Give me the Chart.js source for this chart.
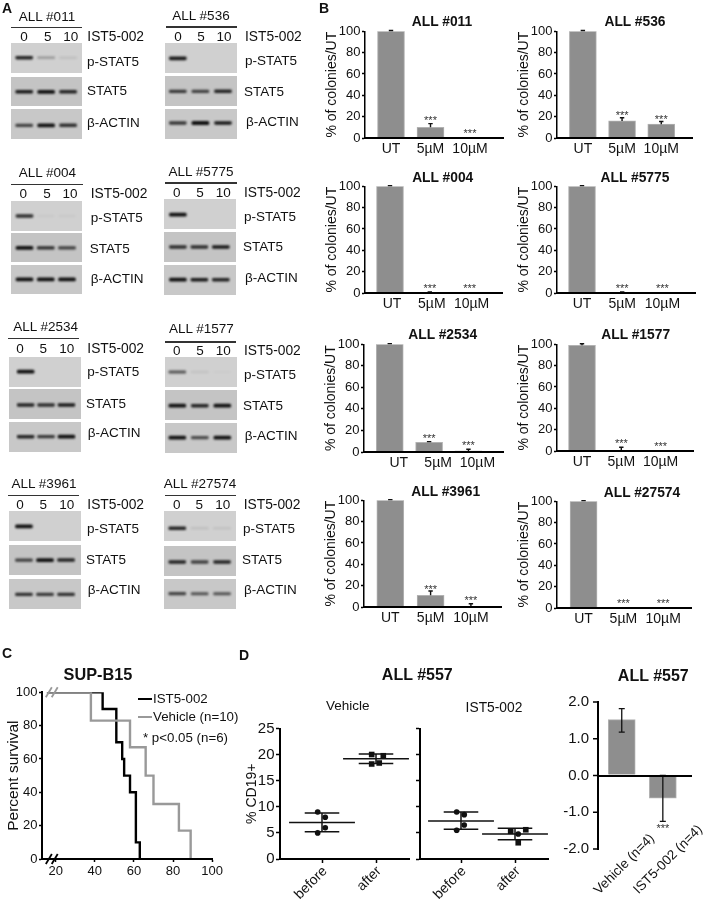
<!DOCTYPE html>
<html>
<head>
<meta charset="utf-8">
<style>
html, body { margin: 0; padding: 0; background: #fff; }
#page { position: absolute; left: 0; top: 0; width: 703px; height: 900px; overflow: hidden; filter: blur(0.35px); font-family: "Liberation Sans", Arial, sans-serif; color: #111; }
#page canvas { position: absolute; }
#page span { position: absolute; white-space: nowrap; line-height: 1; }
#page i { position: absolute; display: block; }
</style>
<script src="https://cdn.jsdelivr.net/npm/chart.js@4"></script>
</head>
<body>
<div id="page"></div>
<script>
// blot band strength per lane, rows are p-STAT5, STAT5, beta-ACTIN
const blotRows = ['p-STAT5', 'STAT5', 'β-ACTIN'];
const doses = ['0', '5', '10'];
const blot011 = [[.85, .3, .1], [.9, .95, .85], [.7, .95, .8]];
const blot536 = [[.9, 0, 0], [.75, .7, .85], [.75, 1, .9]];
const blot004 = [[.8, .03, .03], [.95, .8, .7], [.95, 1, 1]];
const blot5775 = [[.95, 0, 0], [.8, .8, .9], [1, .9, .85]];
const blot2534 = [[.95, 0, 0], [.85, .8, .9], [.85, .75, 1]];
const blot1577 = [[.6, .08, .02], [.95, .85, 1], [.95, .65, .95]];
const blot3961 = [[1, 0, 0], [.7, 1, .85], [.8, .75, .8]];
const blot27574 = [[.85, .1, .08], [.85, .7, .85], [.7, .6, .6]];

// colony assays
const treatments = ['UT', '5µM', '10µM'];
const colonies011 = [100, 10, 0];
const colonies536 = [100, 16, 13];
const colonies004 = [100, 0, 0];
const colonies5775 = [100, 0, 0];
const colonies2534 = [100, 9, 1];
const colonies1577 = [99, 0, 0];
const colonies3961 = [100, 11, 0];
const colonies27574 = [100, 0, 0];
const err011 = [0.8, 3.5, 0];
const err536 = [0.8, 3, 2.5];
const err004 = [0.6, 1, 0];
const err5775 = [0.6, 1, 0];
const err2534 = [0.6, 0.6, 1.5];
const err1577 = [1.5, 3.5, 0];
const err3961 = [0.6, 4, 3];
const err27574 = [0.6, 0, 0];
const stars011 = [null, 19, 7];
const stars536 = [null, 23.5, 20];
const stars004 = [null, 7, 6.5];
const stars5775 = [null, 7, 6.5];
const stars2534 = [null, 14.7, 8.3];
const stars1577 = [null, 9.4, 6.4];
const stars3961 = [null, 19, 8];
const stars27574 = [null, 6.5, 6.5];

// survival (SUP-B15)
const istDays = [15.5, 44, 51, 54, 55, 58, 61, 63];
const istSurvival = [100, 90, 70, 60, 50, 40, 10, 0];
const vehDays = [15.5, 38, 58, 66, 70, 83, 89];
const vehSurvival = [100, 83, 67, 50, 33, 17, 0];
const survivalTicks = [20, 40, 60, 80, 100];

// % CD19+ (ALL #557)
const phases = ['before', 'after'];
const vehBeforeX = [-0.08, 0.06, 0.06, -0.08];
const vehBefore = [9, 8, 6, 5];
const vehAfterX = [0.92, 1.135, 0.92, 1.06];
const vehAfter = [20, 19.8, 18.2, 18.4];
const istBeforeX = [-0.08, 0.06, 0.06, -0.08];
const istBefore = [9, 8.5, 6.5, 5.5];
const istAfterX = [0.92, 1.2, 1.06, 1.06];
const istAfter = [5.3, 5.6, 4.8, 3.1];
const vehMean = [7, 19.2];
const vehSdHigh = [8.8, 20.1];
const vehSdLow = [5.2, 18.3];
const istMean = [7.3, 4.8];
const istSdHigh = [9, 5.9];
const istSdLow = [5.7, 3.7];

// fold change (ALL #557)
const foldGroups = ['Vehicle (n=4)', 'IST5-002 (n=4)'];
const foldValues = [1.52, -0.62];
const foldErrHigh = [1.82, 0];
const foldErrLow = [1.18, -1.25];
const foldStars = [null, -1.38];

const FONT = '"Liberation Sans", Arial, sans-serif';
const page = document.getElementById('page');
Chart.defaults.font.family = FONT;
Chart.defaults.color = '#111';
Chart.defaults.animation = false;
Chart.defaults.plugins.legend.display = false;
Chart.defaults.plugins.tooltip.enabled = false;

function text(str, x, y, size, opts) {
    opts = opts || {};
    const s = document.createElement('span');
    s.textContent = str;
    s.style.left = x + 'px';
    s.style.top = y + 'px';
    s.style.fontSize = size + 'px';
    if (opts.bold) s.style.fontWeight = 'bold';
    s.style.transform = opts.left ? 'translate(0,-50%)' : 'translate(-50%,-50%)';
    if (opts.slant) {
        s.style.transformOrigin = '100% 50%';
        s.style.transform = 'translate(-100%,-50%) rotate(-45deg)';
    }
    page.appendChild(s);
}

// canvas placed so the chart area lands on the given box
function place(x0, x1, yTop, yBottom, L, B, R, T, config) {
    const c = document.createElement('canvas');
    c.width = L + (x1 - x0) + R;
    c.height = T + (yBottom - yTop) + B;
    c.style.left = (x0 - L) + 'px';
    c.style.top = (yTop - T) + 'px';
    page.appendChild(c);
    config.options.responsive = false;
    config.options.layout = { autoPadding: false, padding: { left: 0, right: R, top: T, bottom: 0 } };
    config.options.scales.x.afterFit = s => { s.height = B; };
    config.options.scales.y.afterFit = s => { s.width = L; };
    return new Chart(c, config);
}

// error bars and significance marks, per dataset: errHigh, errLow, starLevels
const errorBars = {
    id: 'errorBars',
    afterDatasetsDraw(chart) {
        const ctx = chart.ctx;
        chart.data.datasets.forEach((ds, di) => {
            if (!ds.errHigh) return;
            const meta = chart.getDatasetMeta(di);
            const ys = chart.scales.y;
            ctx.save();
            ctx.strokeStyle = '#111';
            ctx.lineWidth = ds.errWidth || 1.4;
            meta.data.forEach((bar, i) => {
                const hi = ds.errHigh[i], lo = ds.errLow[i];
                if (hi !== lo) {
                    const cap = ds.capHalf || 2.2;
                    const yh = ys.getPixelForValue(hi), yl = ys.getPixelForValue(lo);
                    ctx.beginPath();
                    ctx.moveTo(bar.x, yh);
                    ctx.lineTo(bar.x, yl);
                    ctx.moveTo(bar.x - cap, yh);
                    ctx.lineTo(bar.x + cap, yh);
                    if (ds.capLow) {
                        ctx.moveTo(bar.x - cap, yl);
                        ctx.lineTo(bar.x + cap, yl);
                    }
                    ctx.stroke();
                }
                if (ds.starLevels && ds.starLevels[i] !== null) {
                    ctx.fillStyle = '#333';
                    ctx.font = '11px ' + FONT;
                    ctx.textAlign = 'center';
                    ctx.textBaseline = 'alphabetic';
                    ctx.fillText('***', bar.x, ys.getPixelForValue(ds.starLevels[i]) + 6);
                }
            });
            ctx.restore();
        });
    }
};

// gel background and soft bands
const gelLook = {
    id: 'gelLook',
    beforeDraw(chart, args, o) {
        chart.ctx.save();
        chart.ctx.fillStyle = o.bg;
        chart.ctx.fillRect(0, 0, chart.width, chart.height);
        chart.ctx.restore();
    },
    beforeDatasetsDraw(chart) {
        chart.ctx.save();
        chart.ctx.filter = 'blur(0.8px)';
    },
    afterDatasetsDraw(chart) {
        chart.ctx.restore();
    }
};

// the // marks on the broken time axis
const axisBreak = {
    id: 'axisBreak',
    afterDraw(chart) {
        const ctx = chart.ctx, xs = chart.scales.x, ys = chart.scales.y;
        [[100, '#999'], [0, '#000']].forEach(([v, color]) => {
            const y = ys.getPixelForValue(v);
            [16.5, 19.5].forEach(d => {
                const x = xs.getPixelForValue(d);
                ctx.save();
                ctx.strokeStyle = color;
                ctx.lineWidth = 1.8;
                ctx.beginPath();
                ctx.moveTo(x - 3, y + 5);
                ctx.lineTo(x + 3, y - 5);
                ctx.stroke();
                ctx.restore();
            });
        });
    }
};

function blotGroup(g) {
    text(g.name, g.titleX, g.titleY, 13.5);
    const rule = document.createElement('i');
    rule.style.cssText = 'left:' + g.ruleX[0] + 'px;top:' + (g.ruleY - 1) + 'px;width:' + (g.ruleX[1] - g.ruleX[0]) + 'px;height:1.6px;background:#333';
    page.appendChild(rule);
    doses.forEach((d, i) => text(d, g.doseX[i], g.doseY, 13.5));
    text('IST5-002', g.istX, g.doseY, 13.8, { left: true });
    blotRows.forEach((rowName, r) => {
        text(rowName, g.labelX[r], g.labelY[r], 13.5, { left: true });
        const top = g.rowTop[r], bottom = g.rowBottom[r], step = (g.bandX[2] - g.bandX[0]) / 2;
        const aLeft = g.bandX[0] - step / 2, aRight = g.bandX[2] + step / 2;
        const h = bottom - top, band = g.bandY[r] - top;
        const strengths = g.data[r];
        const c = document.createElement('canvas');
        c.width = g.panelX[1] - g.panelX[0];
        c.height = h;
        c.style.left = g.panelX[0] + 'px';
        c.style.top = top + 'px';
        page.appendChild(c);
        new Chart(c, {
            type: 'bar',
            data: {
                labels: doses,
                datasets: [{
                    data: strengths.map(v => [-(0.6 + 1 * v), 0.6 + 1 * v]),
                    backgroundColor: strengths.map(v => 'rgba(15,15,15,' + Math.min(1, v * 1.05) + ')'),
                    barThickness: 17,
                    borderRadius: 1.5,
                    borderSkipped: false
                }]
            },
            options: {
                responsive: false,
                layout: { autoPadding: false, padding: { left: aLeft - g.panelX[0], right: g.panelX[1] - aRight, top: 0, bottom: 0 } },
                plugins: { gelLook: { bg: r === 0 ? '#d0d0d0' : (r === 1 ? '#c4c4c4' : '#c8c8c8') } },
                scales: {
                    x: { display: false },
                    y: { display: false, min: -(h - band), max: band }
                }
            },
            plugins: [gelLook]
        });
    });
}

function colonyPanel(p) {
    text(p.name, p.titleX, p.titleY, 13.8, { bold: true });
    const x = (p.axisX - p.c0) / p.step, x2 = (p.end - p.c0) / p.step;
    place(p.axisX, p.end, p.y100, p.y0, 46, 24, 4, 8, {
        type: 'bar',
        data: {
            datasets: [{
                data: p.values.map((v, i) => ({ x: i, y: v })),
                backgroundColor: '#8e8e8e',
                borderColor: '#b2b2b2',
                borderWidth: 1,
                barThickness: 27,
                errHigh: p.values.map((v, i) => v + p.errors[i]),
                errLow: p.values,
                starLevels: p.stars
            }]
        },
        options: {
            scales: {
                x: {
                    type: 'linear', min: x, max: x2, offset: false,
                    afterBuildTicks: s => { s.ticks = treatments.map((t, i) => ({ value: i })); },
                    grid: { display: false, drawTicks: false },
                    border: { color: '#000', width: 2, z: 1 },
                    ticks: { autoSkip: false, maxRotation: 0, padding: 3, labelOffset: p.labelShift || 0, font: { size: 14 }, callback: v => treatments[v] }
                },
                y: {
                    min: 0, max: 100,
                    grid: { drawOnChartArea: false, color: '#000', tickLength: 3, tickWidth: 1.5 },
                    border: { color: '#000', width: 1.5, z: 1 },
                    ticks: { stepSize: 20, padding: 1.5, font: { size: 13 } },
                    title: { display: true, text: '% of colonies/UT', font: { size: 14 }, padding: 4.5 }
                }
            }
        },
        plugins: [errorBars]
    });
}

function cd19Panel(d) {
    const step = 54;
    const hLine = (c, v, half, w) => ({
        type: 'line',
        data: [{ x: c - half, y: v }, { x: c + half, y: v }],
        borderColor: '#111', borderWidth: w, pointRadius: 0
    });
    const sets = [];
    [0, 1].forEach(c => {
        sets.push(hLine(c, d.mean[c], 0.61, 1.5));
        sets.push(hLine(c, d.high[c], 0.32, 1.5));
        sets.push(hLine(c, d.low[c], 0.32, 1.5));
        sets.push({ type: 'line', data: [{ x: c, y: d.high[c] }, { x: c, y: d.low[c] }], borderColor: '#111', borderWidth: 1.5, pointRadius: 0 });
    });
    sets.push({
        type: 'scatter',
        data: d.beforeX.map((x, i) => ({ x: x, y: d.before[i] })),
        backgroundColor: '#111', pointRadius: 2.8, pointStyle: 'circle'
    });
    sets.push({
        type: 'scatter',
        data: d.afterX.map((x, i) => ({ x: x, y: d.after[i] })),
        backgroundColor: '#111',
        pointRadius: d.afterX.map((x, i) => d.afterRound === i ? 2.8 : 3.9),
        pointStyle: d.afterX.map((x, i) => d.afterRound === i ? 'circle' : 'rect')
    });
    place(d.axisX, d.end, 726, 859, d.L, 40, 4, 8, {
        type: 'scatter',
        data: { datasets: sets },
        options: {
            scales: {
                x: {
                    type: 'linear', min: (d.axisX - d.tick0) / step, max: (d.end - d.tick0) / step,
                    afterBuildTicks: s => { s.ticks = phases.map((t, i) => ({ value: i })); },
                    grid: { drawOnChartArea: false, color: '#000', tickLength: 4, tickWidth: 1.5 },
                    border: { color: '#000', width: 2 },
                    ticks: { autoSkip: false, minRotation: 45, maxRotation: 45, padding: 0, labelOffset: 3, font: { size: 14 }, callback: v => phases[v] }
                },
                y: {
                    min: 0, max: 25,
                    grid: { drawOnChartArea: false, color: '#000', tickLength: 4, tickWidth: 1.5 },
                    border: { color: '#000', width: 2 },
                    ticks: { stepSize: 5, padding: 1.5, font: { size: 15 }, callback: v => d.showLabels ? v : '' },
                    title: { display: d.showLabels, text: '% CD19+', font: { size: 14 }, padding: 1.6 }
                }
            }
        }
    });
}

// panel A
text('A', 7, 8, 14, { bold: true });
[
    { name: 'ALL #011', data: blot011, titleX: 47, titleY: 17, ruleX: [11, 82], ruleY: 27.7, doseX: [24, 47.7, 70.7], doseY: 36.7, istX: 87.3,
      panelX: [10.7, 82.3], rowTop: [43.3, 77.3, 109.3], rowBottom: [74, 106.7, 140], bandX: [24, 46, 68.3], bandY: [58.3, 92.3, 126], labelX: [87, 87, 87], labelY: [62, 90.7, 122.7] },
    { name: 'ALL #536', data: blot536, titleX: 201, titleY: 16, ruleX: [166, 237.3], ruleY: 27.3, doseX: [178, 201, 224], doseY: 37, istX: 245,
      panelX: [164.7, 236.7], rowTop: [43.3, 76, 108.7], rowBottom: [74, 106.7, 139.3], bandX: [177.5, 201.7, 222.7], bandY: [59, 91.7, 123], labelX: [245, 244, 246], labelY: [61, 91.7, 122] },
    { name: 'ALL #004', data: blot004, titleX: 47.3, titleY: 172.7, ruleX: [11.3, 82.7], ruleY: 184.7, doseX: [23.3, 47, 70], doseY: 194.3, istX: 90.7,
      panelX: [11, 82], rowTop: [200.7, 232.7, 264.7], rowBottom: [230.7, 262, 294], bandX: [24.5, 44.7, 67], bandY: [215.7, 247.7, 279.3], labelX: [90.7, 89.7, 90.7], labelY: [217.7, 249, 278.7] },
    { name: 'ALL #5775', data: blot5775, titleX: 201, titleY: 172, ruleX: [165, 236.7], ruleY: 183, doseX: [176.7, 200, 223.3], doseY: 192.7, istX: 244,
      panelX: [164.3, 237], rowTop: [198.7, 232, 264.7], rowBottom: [229.3, 262.7, 295.3], bandX: [178.3, 200.7, 221.7], bandY: [214.7, 247.3, 279.7], labelX: [244, 243, 245], labelY: [216.7, 247, 277.7] },
    { name: 'ALL #2534', data: blot2534, titleX: 45.7, titleY: 327.3, ruleX: [8, 79.3], ruleY: 338.7, doseX: [20, 43.3, 66.7], doseY: 348.7, istX: 87.3,
      panelX: [9, 81.3], rowTop: [356.7, 389.3, 422], rowBottom: [387.3, 420, 452.7], bandX: [25.7, 45.7, 66.7], bandY: [371.7, 405.7, 437], labelX: [87.3, 86, 87.7], labelY: [372, 403.7, 433] },
    { name: 'ALL #1577', data: blot1577, titleX: 201.3, titleY: 329.3, ruleX: [165, 236.3], ruleY: 342, doseX: [176.7, 200, 223.3], doseY: 350.7, istX: 244,
      panelX: [164.7, 236.7], rowTop: [357.3, 390, 423.3], rowBottom: [387.3, 420.7, 453.3], bandX: [177, 200, 222], bandY: [372.3, 406, 438], labelX: [244, 243, 244.7], labelY: [374.7, 405.7, 436] },
    { name: 'ALL #3961', data: blot3961, titleX: 44, titleY: 483.7, ruleX: [8, 79.3], ruleY: 495.7, doseX: [20, 43.3, 66.7], doseY: 505.3, istX: 87.3,
      panelX: [8.7, 81], rowTop: [511.3, 545.3, 579.3], rowBottom: [542, 576, 610], bandX: [23.7, 44.7, 66], bandY: [527, 560.7, 595], labelX: [87, 86, 87.7], labelY: [529, 560, 590.3] },
    { name: 'ALL #27574', data: blot27574, titleX: 200, titleY: 483.7, ruleX: [164.7, 236], ruleY: 495.7, doseX: [176.7, 199.3, 222.7], doseY: 505.3, istX: 243.7,
      panelX: [163.7, 236], rowTop: [511, 546, 578.7], rowBottom: [541.7, 576, 609.3], bandX: [177, 200, 222], bandY: [528.7, 562, 593.7], labelX: [243, 242, 244], labelY: [529, 559.7, 590] }
].forEach(blotGroup);

// panel B
text('B', 324, 8, 14, { bold: true });
[
    { name: 'ALL #011', values: colonies011, errors: err011, stars: stars011, titleX: 442, titleY: 22, axisX: 365, end: 503, y100: 30, y0: 138.5, c0: 391, step: 39.5 },
    { name: 'ALL #536', values: colonies536, errors: err536, stars: stars536, titleX: 635, titleY: 22, axisX: 557, end: 692.7, y100: 30, y0: 138.5, c0: 583, step: 39.4 },
    { name: 'ALL #004', values: colonies004, errors: err004, stars: stars004, titleX: 442.7, titleY: 177.7, axisX: 365, end: 502, y100: 185, y0: 293.7, c0: 390, step: 39.8, labelShift: 2 },
    { name: 'ALL #5775', values: colonies5775, errors: err5775, stars: stars5775, titleX: 635, titleY: 178, axisX: 557, end: 695, y100: 185, y0: 293.7, c0: 582, step: 40.2 },
    { name: 'ALL #2534', values: colonies2534, errors: err2534, stars: stars2534, titleX: 442.7, titleY: 334.7, axisX: 363.5, end: 502.7, y100: 343, y0: 452.3, c0: 389.3, step: 39.4, labelShift: 9 },
    { name: 'ALL #1577', values: colonies1577, errors: err1577, stars: stars1577, titleX: 635.7, titleY: 335, axisX: 557, end: 693, y100: 343.3, y0: 451.3, c0: 582, step: 39.3 },
    { name: 'ALL #3961', values: colonies3961, errors: err3961, stars: stars3961, titleX: 445.7, titleY: 492, axisX: 364, end: 501, y100: 499.3, y0: 608, c0: 390.3, step: 40.3 },
    { name: 'ALL #27574', values: colonies27574, errors: err27574, stars: stars27574, titleX: 642, titleY: 492.5, axisX: 557, end: 691.7, y100: 500, y0: 608, c0: 583.7, step: 40 }
].forEach(colonyPanel);

// panel C
text('C', 7, 653, 14, { bold: true });
text('SUP-B15', 98, 674, 16.3, { bold: true });
const keyBlack = document.createElement('i');
keyBlack.style.cssText = 'left:138px;top:698px;width:14px;height:2.4px;background:#000';
page.appendChild(keyBlack);
const keyGray = document.createElement('i');
keyGray.style.cssText = 'left:138px;top:716px;width:14px;height:2.4px;background:#999';
page.appendChild(keyGray);
text('IST5-002', 153, 698.5, 13.3, { left: true });
text('Vehicle (n=10)', 153, 716.5, 13.3, { left: true });
text('* p<0.05 (n=6)', 143, 738, 13.3, { left: true });
place(42, 213.7, 691, 859, 39, 26, 12, 8, {
    type: 'line',
    data: {
        datasets: [
            { data: istDays.map((d, i) => ({ x: d, y: istSurvival[i] })), borderColor: '#000', borderWidth: 2.4, pointRadius: 0, stepped: 'before', order: 2 },
            { data: vehDays.map((d, i) => ({ x: d, y: vehSurvival[i] })), borderColor: '#999', borderWidth: 2.4, pointRadius: 0, stepped: 'before', order: 1 }
        ]
    },
    options: {
        scales: {
            x: {
                type: 'linear', min: 13, max: 100,
                afterBuildTicks: s => { s.ticks = survivalTicks.map(v => ({ value: v })); },
                grid: { drawOnChartArea: false, color: '#000', tickLength: 3, tickWidth: 1.5 },
                border: { color: '#000', width: 2, z: 1 },
                ticks: { autoSkip: false, maxRotation: 0, padding: 2, font: { size: 13 } }
            },
            y: {
                min: 0, max: 100,
                grid: { drawOnChartArea: false, color: '#000', tickLength: 3, tickWidth: 1.5 },
                border: { color: '#000', width: 2, z: 1 },
                ticks: { stepSize: 20, padding: 1.5, font: { size: 13 } },
                title: { display: true, text: 'Percent survival', font: { size: 15.5 }, padding: 1 }
            }
        }
    },
    plugins: [axisBreak]
});

// panel D
text('D', 244, 655, 14, { bold: true });
text('ALL #557', 417.3, 675, 16, { bold: true });
text('Vehicle', 347.7, 705.7, 13.5);
text('IST5-002', 494, 707.7, 13.8);
cd19Panel({ axisX: 280, end: 409, tick0: 322, L: 38, showLabels: true, mean: vehMean, high: vehSdHigh, low: vehSdLow, beforeX: vehBeforeX, before: vehBefore, afterX: vehAfterX, after: vehAfter, afterRound: -1 });
cd19Panel({ axisX: 420, end: 548, tick0: 461, L: 10, showLabels: false, mean: istMean, high: istSdHigh, low: istSdLow, beforeX: istBeforeX, before: istBefore, afterX: istAfterX, after: istAfter, afterRound: 2 });

text('ALL #557', 653.3, 676, 16, { bold: true });
text(foldGroups[0], 652, 836, 13.5, { slant: true });
text(foldGroups[1], 700, 827, 13.5, { slant: true });
place(598, 692, 692, 859, 40, 8, 11, 8, {
    type: 'bar',
    data: {
        datasets: [{
            data: foldValues.map((v, i) => ({ x: i, y: v })),
            backgroundColor: '#8e8e8e',
            borderColor: '#b2b2b2',
            borderWidth: 1,
            barThickness: 27,
            errHigh: foldErrHigh,
            errLow: foldErrLow,
            capHalf: 3,
            capLow: true,
            errWidth: 1.3,
            starLevels: foldStars
        }]
    },
    options: {
        scales: {
            x: {
                type: 'linear', min: -0.578, max: 1.71, offset: false,
                afterBuildTicks: s => { s.ticks = foldGroups.map((t, i) => ({ value: i })); },
                grid: { display: false, drawTicks: false },
                border: { display: false },
                ticks: { display: false }
            },
            y: {
                min: -2, max: 2,
                grid: {
                    color: c => c.tick && c.tick.value === 0 ? '#000' : 'rgba(0,0,0,0)',
                    lineWidth: 2,
                    drawTicks: false,
                    z: 1
                },
                border: { color: '#000', width: 2, z: 1 },
                ticks: { stepSize: 1, padding: 9, font: { size: 15 }, callback: v => v.toFixed(1) }
            }
        }
    },
    plugins: [errorBars, {
        id: 'foldTicks',
        afterDraw(chart) {
            const ctx = chart.ctx, ys = chart.scales.y;
            ys.ticks.forEach(t => {
                const y = ys.getPixelForValue(t.value);
                ctx.save();
                ctx.strokeStyle = '#000';
                ctx.lineWidth = 1.5;
                ctx.beginPath();
                ctx.moveTo(chart.chartArea.left - 5, y);
                ctx.lineTo(chart.chartArea.left, y);
                ctx.stroke();
                ctx.restore();
            });
        }
    }]
});
</script>
</body>
</html>
